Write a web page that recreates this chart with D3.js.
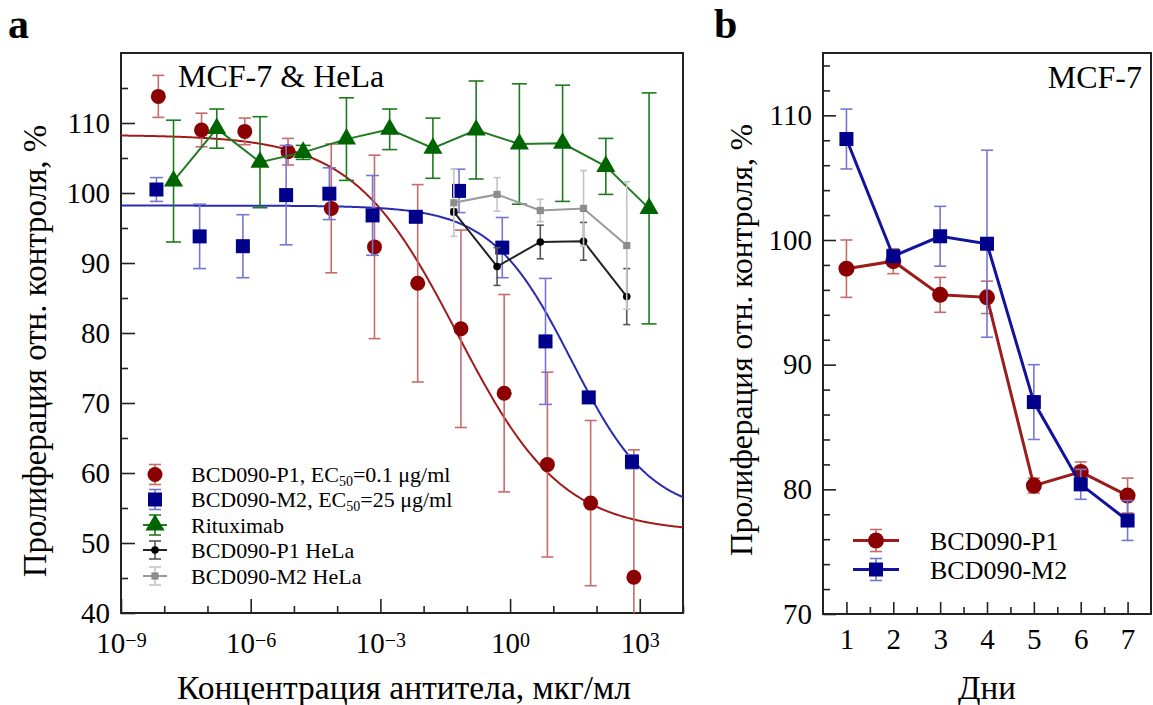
<!DOCTYPE html>
<html><head><meta charset="utf-8">
<script src="https://cdn.jsdelivr.net/npm/d3@7"></script>
<style>
body{margin:0;background:#fff}
svg{display:block}
text{font-family:"Liberation Serif","Times New Roman",serif;fill:#000}
</style>
</head><body>
<svg id="chart" width="1153" height="705"></svg>
<script>
// ---------------- DATA (panel a: concentration response) ----------------
const concP1 = [7.3e-9,7.3e-8,7.3e-7,7.3e-6,7.3e-5,7.3e-4,7.3e-3,7.3e-2,0.73,7.3,73,730];
const valP1  = [113.8,109.0,108.8,105.9,97.8,92.3,87.1,80.6,71.4,61.2,55.7,45.1];
const sdP1   = [3.0,2.4,1.9,1.9,9.2,13.1,14.1,14.1,14.1,13.2,11.8,18.2];

const concM2 = [6.6e-9,6.6e-8,6.6e-7,6.6e-6,6.6e-5,6.6e-4,6.6e-3,6.6e-2,0.66,6.6,66,660];
const valM2  = [100.5,93.8,92.4,99.7,99.9,96.8,96.6,100.3,92.2,78.8,70.8,61.6];
const sdM2   = [1.7,4.6,4.5,7.1,3.7,5.7,0.5,3.1,4.3,9.0,0.6,1.0];

const concRtx = [1.64e-8,1.64e-7,1.64e-6,1.64e-5,1.64e-4,1.64e-3,1.64e-2,0.164,1.64,16.4,164,1640];
const valRtx  = [101.7,109.2,104.4,105.8,107.7,109.1,106.4,109.0,107.0,107.1,103.8,97.8];
const sdRtx   = [8.7,2.8,6.5,1.0,5.9,2.9,4.3,7.0,8.6,8.3,4.0,16.5];

const concHeLa  = [0.05,0.5,5,50,500];
const valP1HeLa = [97.3,89.5,93.0,93.1,85.2];
const sdP1HeLa  = [0.4,2.7,2.4,2.7,4.0];
const valM2HeLa = [98.6,99.8,97.5,97.8,92.5];
const sdM2HeLa  = [4.8,2.4,1.6,5.4,9.1];

// 4-parameter logistic fits: [top, bottom, log10(EC50), Hill slope]
const fitP1 = [108.3, 51.5, -1.22, 0.36];
const fitM2 = [98.2, 54.0, 1.42, 0.47];

const xTicksA = [1e-9,1e-6,1e-3,1,1e3];
const xMinorA = [1e-8,1e-7,1e-5,1e-4,1e-2,1e-1,10,100,1e4];
const yTicksA = [40,50,60,70,80,90,100,110];
const yMinorA = [45,55,65,75,85,95,105,115];

const legendA = ["BCD090-P1", "BCD090-M2", "Rituximab", "BCD090-P1 HeLa", "BCD090-M2 HeLa"];

// ---------------- DATA (panel b: time course) ----------------
const days   = [1,2,3,4,5,6,7];
const dayP1  = [97.7,98.3,95.6,95.4,80.3,81.4,79.5];
const daySdP1= [2.3,1.0,1.4,1.3,0.6,0.8,1.4];
const dayM2  = [108.1,98.7,100.3,99.7,87.0,80.4,77.5];
const daySdM2= [2.4,0.3,2.4,7.5,3.0,1.2,1.6];
const xTicksB = [1,2,3,4,5,6,7];
const xMinorB = [1.5,2.5,3.5,4.5,5.5,6.5];
const yTicksB = [70,80,90,100,110];
const yMinorB = [72,74,76,78,82,84,86,88,92,94,96,98,102,104,106,108,112,114];
const legendB = ["BCD090-P1","BCD090-M2"];

// ---------------- DRAWING ----------------
const svg = d3.select("#chart");
const FONT = '"Liberation Serif","Times New Roman",serif';
const A = {l:121, r:683, t:53, b:613};
const B = {l:823, r:1151, t:53, b:614};

const xA = d3.scaleLog().domain([1e-9,1e4]).range([A.l,A.r]);
const yA = d3.scaleLinear().domain([40,120]).range([A.b,A.t]);
const xB = d3.scaleLinear().domain([0.5,7.5]).range([B.l,B.r]);
const yB = d3.scaleLinear().domain([70,115]).range([B.b,B.t]);

const defs = svg.append("defs");
defs.append("clipPath").attr("id","clipA").append("rect")
  .attr("x",A.l).attr("y",A.t).attr("width",A.r-A.l).attr("height",A.b-A.t);

function styleAxis(g, size){
  g.attr("font-family",FONT).attr("font-size",size).attr("color","#222");
  g.select(".domain").remove();
  g.selectAll(".tick line").attr("stroke-width",1.6);
}

// ---- Panel a axes
const ayMaj = svg.append("g").attr("transform",`translate(${A.l},0)`)
  .call(d3.axisLeft(yA).tickValues(yTicksA).tickSize(-14).tickSizeOuter(0).tickPadding(11).tickFormat(d3.format("d")));
styleAxis(ayMaj,29);
const ayMin = svg.append("g").attr("transform",`translate(${A.l},0)`)
  .call(d3.axisLeft(yA).tickValues(yMinorA).tickSize(-7).tickSizeOuter(0).tickFormat(""));
styleAxis(ayMin,29);

const axMaj = svg.append("g").attr("transform",`translate(0,${A.b})`)
  .call(d3.axisBottom(xA).tickValues(xTicksA).tickSize(-14).tickSizeOuter(0).tickPadding(19).tickFormat(()=> "10"));
styleAxis(axMaj,29);
axMaj.selectAll(".tick text").each(function(d){
  const e = Math.round(Math.log10(d));
  d3.select(this).append("tspan").attr("font-size",20).attr("dy",-6)
    .text(e<0 ? "\u2212"+(-e) : String(e));
});
const axMin = svg.append("g").attr("transform",`translate(0,${A.b})`)
  .call(d3.axisBottom(xA).tickValues(xMinorA).tickSize(-7).tickSizeOuter(0).tickFormat(""));
styleAxis(axMin,29);

// ---- Panel b axes
const byMaj = svg.append("g").attr("transform",`translate(${B.l},0)`)
  .call(d3.axisLeft(yB).tickValues(yTicksB).tickSize(-13).tickSizeOuter(0).tickPadding(11).tickFormat(d3.format("d")));
styleAxis(byMaj,29);
const byMin = svg.append("g").attr("transform",`translate(${B.l},0)`)
  .call(d3.axisLeft(yB).tickValues(yMinorB).tickSize(-7).tickSizeOuter(0).tickFormat(""));
styleAxis(byMin,29);
const bxMaj = svg.append("g").attr("transform",`translate(0,${B.b})`)
  .call(d3.axisBottom(xB).tickValues(xTicksB).tickSize(-12).tickSizeOuter(0).tickPadding(14).tickFormat(d3.format("d")));
styleAxis(bxMaj,29);
const bxMin = svg.append("g").attr("transform",`translate(0,${B.b})`)
  .call(d3.axisBottom(xB).tickValues(xMinorB).tickSize(-7).tickSizeOuter(0).tickFormat(""));
styleAxis(bxMin,29);

// borders
[A,B].forEach(p=>{
  svg.append("rect").attr("x",p.l).attr("y",p.t).attr("width",p.r-p.l).attr("height",p.b-p.t)
    .attr("fill","none").attr("stroke","#222").attr("stroke-width",2);
});

// ---- helpers
function errorBars(g, xs, ys, sds, x, y, color, capW, sw){
  xs.forEach((xv,i)=>{
    const cx = x(xv), y1 = y(ys[i]+sds[i]), y2 = y(ys[i]-sds[i]);
    g.append("line").attr("x1",cx).attr("x2",cx).attr("y1",y1).attr("y2",y2)
      .attr("stroke",color).attr("stroke-width",sw);
    [y1,y2].forEach(yy=> g.append("line").attr("x1",cx-capW/2).attr("x2",cx+capW/2)
      .attr("y1",yy).attr("y2",yy).attr("stroke",color).attr("stroke-width",sw));
  });
}
function marker(g, type, cx, cy, size, fill){
  if(type==="circle") g.append("circle").attr("cx",cx).attr("cy",cy).attr("r",size).attr("fill",fill);
  else if(type==="square") g.append("rect").attr("x",cx-size).attr("y",cy-size).attr("width",2*size).attr("height",2*size).attr("fill",fill);
  else if(type==="triangle") g.append("path").attr("transform",`translate(${cx},${cy})`)
      .attr("d",d3.symbol(d3.symbolTriangle, size*size*1.75)()).attr("fill",fill);
}
function logistic(p){ return l => p[1] + (p[0]-p[1])/(1+Math.pow(10,(l-p[2])*p[3])); }

// ---- Panel a series
const gA = svg.append("g").attr("clip-path","url(#clipA)");
const lineA = d3.line().x(d=>xA(d[0])).y(d=>yA(d[1]));

// fitted curves
const logGrid = d3.range(-9, 4.0001, 0.02);
[[fitP1,"#a31a1a"],[fitM2,"#2a2ab4"]].forEach(([p,c])=>{
  const f = logistic(p);
  gA.append("path").datum(logGrid.map(l=>[Math.pow(10,l), f(l)]))
    .attr("d",lineA).attr("fill","none").attr("stroke",c).attr("stroke-width",2);
});

const seriesA = [
  {x:concP1, y:valP1, sd:sdP1, mk:"circle", size:7.5, fill:"#8b0000", err:"#c76b6b", cap:12, line:null},
  {x:concM2, y:valM2, sd:sdM2, mk:"square", size:7, fill:"#00008b", err:"#7676d4", cap:13, line:null},
  {x:concRtx, y:valRtx, sd:sdRtx, mk:"triangle", size:9.5, fill:"#006400", err:"#1f7a1f", cap:15, line:"#1f7a1f"},
  {x:concHeLa, y:valP1HeLa, sd:sdP1HeLa, mk:"circle", size:3.8, fill:"#000", err:"#555", cap:7, line:"#222"},
  {x:concHeLa, y:valM2HeLa, sd:sdM2HeLa, mk:"square", size:3.6, fill:"#8c8c8c", err:"#c4c4c4", cap:7, line:"#9a9a9a"}
];
seriesA.forEach(s=>{
  const g = gA.append("g");
  errorBars(g, s.x, s.y, s.sd, xA, yA, s.err, s.cap, 1.6);
  if(s.line) g.append("path").datum(s.x.map((v,i)=>[v,s.y[i]])).attr("d",lineA)
    .attr("fill","none").attr("stroke",s.line).attr("stroke-width",2);
  s.x.forEach((v,i)=> marker(g, s.mk, xA(v), yA(s.y[i]), s.size, s.fill));
});

// ---- Panel b series
const lineB = d3.line().x(d=>xB(d[0])).y(d=>yB(d[1]));
const seriesB = [
  {y:dayP1, sd:daySdP1, mk:"circle", size:8, fill:"#8b0000", err:"#c76b6b", line:"#9b1c1c"},
  {y:dayM2, sd:daySdM2, mk:"square", size:7, fill:"#00008b", err:"#7676d4", line:"#12129c"}
];
seriesB.forEach(s=>{
  const g = svg.append("g");
  errorBars(g, days, s.y, s.sd, xB, yB, s.err, 12, 1.6);
  g.append("path").datum(days.map((d,i)=>[d,s.y[i]])).attr("d",lineB)
    .attr("fill","none").attr("stroke",s.line).attr("stroke-width",3);
  days.forEach((d,i)=> marker(g, s.mk, xB(d), yB(s.y[i]), s.size, s.fill));
});

// ---- Legend panel a
const legA = svg.append("g");
const legRowsA = [474.5, 499.5, 525, 550, 576];
seriesA.forEach((s,i)=>{
  const cy = legRowsA[i], cx = 155;
  const h = s.size>5 ? 10 : 9;
  const g = legA.append("g");
  g.append("line").attr("x1",cx).attr("x2",cx).attr("y1",cy-h).attr("y2",cy+h).attr("stroke",s.err).attr("stroke-width",1.6);
  [cy-h,cy+h].forEach(yy=>g.append("line").attr("x1",cx-6).attr("x2",cx+6).attr("y1",yy).attr("y2",yy).attr("stroke",s.err).attr("stroke-width",1.6));
  if(s.line) g.append("line").attr("x1",cx-12).attr("x2",cx+12).attr("y1",cy).attr("y2",cy).attr("stroke",s.line).attr("stroke-width",2);
  marker(g, s.mk, cx, cy, s.size, s.fill);
  const t = legA.append("text").attr("x",191).attr("y",cy+7.5).attr("font-size",22);
  t.append("tspan").text(legendA[i]);
  if(i===0 || i===1){
    t.append("tspan").text(", EC");
    t.append("tspan").attr("font-size",14).attr("dy",4).text("50");
    t.append("tspan").attr("dy",-4).text(i===0 ? "=0.1 \u03bcg/ml" : "=25 \u03bcg/ml");
  }
});

// ---- Legend panel b
const legRowsB = [540.5, 569.5];
seriesB.forEach((s,i)=>{
  const cy = legRowsB[i], cx = 876;
  const g = svg.append("g");
  g.append("line").attr("x1",cx).attr("x2",cx).attr("y1",cy-11).attr("y2",cy+11).attr("stroke",s.err).attr("stroke-width",1.6);
  [cy-11,cy+11].forEach(yy=>g.append("line").attr("x1",cx-6).attr("x2",cx+6).attr("y1",yy).attr("y2",yy).attr("stroke",s.err).attr("stroke-width",1.6));
  g.append("line").attr("x1",853).attr("x2",899).attr("y1",cy).attr("y2",cy).attr("stroke",s.line).attr("stroke-width",3);
  marker(g, s.mk, cx, cy, s.size, s.fill);
  svg.append("text").attr("x",930).attr("y",cy+9).attr("font-size",26).text(legendB[i]);
});

// ---- Titles and labels
svg.append("text").attr("x",178).attr("y",87).attr("font-size",32).text("MCF-7 & HeLa");
svg.append("text").attr("x",1142).attr("y",88).attr("font-size",32).attr("text-anchor","end").text("MCF-7");

svg.append("text").attr("transform","translate(46,351) rotate(-90)").attr("text-anchor","middle")
  .attr("font-size",33).text("Пролиферация отн. контроля, %");
svg.append("text").attr("transform","translate(752,340) rotate(-90)").attr("text-anchor","middle")
  .attr("font-size",31.5).text("Пролиферация отн. контроля, %");

svg.append("text").attr("x",404).attr("y",699).attr("text-anchor","middle").attr("font-size",33.5)
  .text("Концентрация антитела, мкг/мл");
svg.append("text").attr("x",987).attr("y",699).attr("text-anchor","middle").attr("font-size",33).text("Дни");

svg.append("text").attr("x",8).attr("y",38).attr("font-size",42).attr("font-weight","bold").text("a");
svg.append("text").attr("x",714).attr("y",38).attr("font-size",42).attr("font-weight","bold").text("b");
</script>
</body></html>
